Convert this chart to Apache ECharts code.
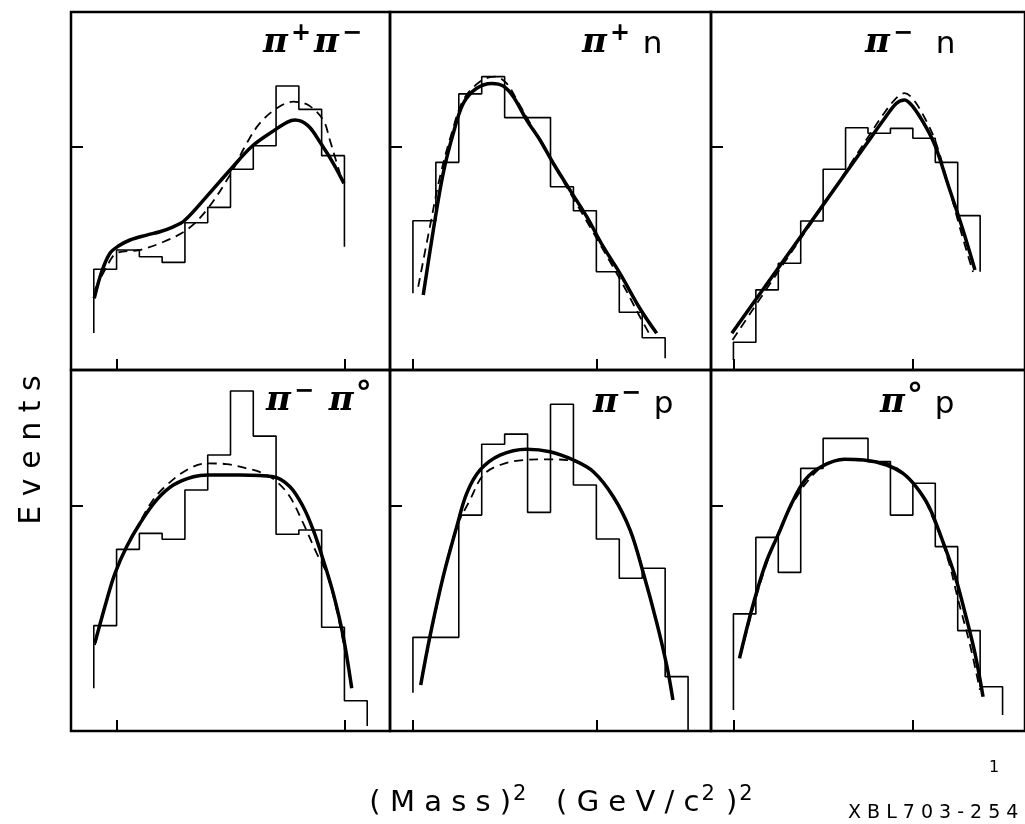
<!DOCTYPE html>
<html>
<head>
<meta charset="utf-8">
<title>Mass squared distributions</title>
<script src="https://cdn.jsdelivr.net/npm/echarts@6/dist/echarts.min.js"></script>
<style>
  html, body { margin: 0; padding: 0; background: #fff; }
  #chart { width: 1025px; height: 824px; }
</style>
</head>
<body>
<div id="chart"></div>
<script>
// x is in bin units (one bin per step), y is events on an axis going 0..160 (tick at 100)

// pi+ pi-
const pipiHist = [45.0, 53.6, 50.6, 48.1, 65.8, 72.7, 89.7, 100.2, 126.9, 116.5, 95.8];
const pipiEdge = [16.5, 55.1];
const pipiSolid = [[0.02, 32], [0.35, 44], [0.71, 52.2], [1.08, 55.4], [1.59, 58.1], [2.32, 60.3], [2.9, 61.8], [3.49, 64.0], [3.97, 66.7], [4.95, 77.5], [5.98, 89.4], [6.97, 100.2], [7.95, 107.3], [8.5, 110.8], [8.83, 111.7], [9.41, 109.1], [9.96, 101.3], [10.51, 92.4], [10.98, 83.4]];
const pipiDashed = [[0.05, 35.8], [0.57, 46.2], [1.0, 52.2], [1.98, 53.6], [2.9, 56.6], [4.08, 62.6], [4.95, 71.5], [5.98, 87.2], [6.71, 101.3], [7.29, 110.3], [8.03, 117.0], [8.75, 119.9], [9.41, 118.4], [10.07, 111.7], [10.36, 102.8], [10.58, 95.3], [10.8, 87.9]];

// pi+ n
const pipnHist = [66.7, 92.8, 123.4, 131.1, 112.8, 112.8, 81.9, 71.2, 43.9, 25.8, 14.4];
const pipnEdge = [34.3, 5.2];
const pipnSolid = [[0.45, 33.5], [0.89, 62.6], [1.32, 87.9], [1.76, 105.8], [2.2, 119.2], [2.78, 125.9], [3.44, 128.1], [3.94, 126.9], [4.38, 122.1], [4.96, 111.7], [5.54, 102.8], [6.12, 92.4], [6.85, 80.4], [7.58, 68.5], [8.3, 55.1], [9.03, 43.2], [9.9, 27.5], [10.63, 16.4]];
const pipnDashed = [[0.23, 37.2], [0.74, 64.0], [1.18, 86.4], [1.69, 105.8], [2.2, 120.7], [2.93, 128.9], [3.58, 131.1], [4.09, 128.1], [4.53, 120.7], [5.11, 110.3], [6.27, 89.4], [7.72, 64.0], [9.17, 38.0], [9.9, 23.8], [10.34, 15.6]];

// pi- n
const pimnHist = [12.4, 35.8, 47.7, 66.6, 89.7, 108.3, 105.8, 108.0, 103.6, 92.8, 69.0];
const pimnEdge = [4.5, 43.9];
const pimnSolid = [[-0.07, 16.4], [2, 45.6], [4, 73.8], [6, 102], [6.69, 111.7], [7.27, 119.2], [7.63, 120.7], [8.0, 117.7], [8.58, 108.7], [9.01, 99.8], [9.6, 81.9], [10.19, 64.0], [10.77, 44.7]];
const pimnDashed = [[-0.04, 13.4], [2, 44], [4, 73.5], [6, 104], [6.69, 114.4], [7.27, 121.6], [7.62, 123.7], [8.01, 121.1], [8.58, 111.7], [9.02, 101.9], [9.59, 82.2], [10.15, 61.7], [10.68, 43.8]];

// pi- pi0
const pimpi0Hist = [46.7, 80.5, 87.6, 85.0, 106.8, 122.3, 150.7, 130.7, 87.2, 89.1, 46.0, 13.4];
const pimpi0Edge = [18.9, 2.2];
const pimpi0Solid = [[0.05, 39.1], [0.57, 58.1], [0.93, 69.9], [1.44, 81.7], [2.03, 92.1], [2.76, 102.4], [3.49, 109.0], [4.37, 112.7], [5.02, 113.5], [6.42, 113.5], [7.88, 112.7], [8.61, 108.3], [9.19, 99.4], [9.63, 89.1], [10.07, 75.8], [10.51, 61.0], [10.95, 41.8], [11.32, 18.9]];
const pimpi0Dashed = [[0.05, 38.1], [0.93, 70.0], [2.03, 92.6], [2.6, 102.4], [3.2, 109.0], [4.08, 115.7], [4.95, 118.6], [5.83, 118.3], [6.71, 116.4], [7.44, 114.2], [8.03, 110.5], [8.61, 103.8], [9.19, 92.1], [9.78, 78.8], [10.22, 69.9], [10.66, 53.6], [11.1, 31.5]];

// pi- p
const pimpHist = [41.5, 41.5, 95.7, 127.1, 131.6, 96.9, 144.8, 109.0, 85.1, 67.7, 72.1, 24.1];
const pimpEdge = [17.0, 0.4];
const pimpSolid = [[0.34, 20.4], [0.74, 41.8], [1.32, 68.4], [1.91, 90.5], [2.35, 105.4], [2.93, 115.7], [3.8, 122.3], [4.96, 124.9], [5.98, 123.8], [7.0, 120.1], [7.87, 114.9], [8.74, 103.8], [9.47, 89.1], [10.05, 69.9], [10.64, 47.7], [11.08, 28.5], [11.34, 13.7]];
const pimpDashed = [[0.34, 20.4], [1.32, 68.4], [1.91, 90.5], [2.49, 102.4], [3.07, 113.5], [3.8, 117.9], [4.82, 120.1], [5.83, 120.4], [6.71, 120.1], [7.58, 117.1], [8.16, 111.8], [8.74, 104.0], [9.32, 92.5], [9.76, 80.5], [10.05, 70.5], [10.64, 47.7], [11.08, 28.5]];

// pi0 p
const pi0pHist = [51.9, 85.8, 70.3, 116.4, 129.7, 129.7, 119.4, 95.7, 109.8, 81.7, 44.5, 19.6];
const pi0pEdge = [9.3, 7.1];
const pi0pSolid = [[0.27, 32.2], [0.85, 55.1], [1.44, 74.3], [2.02, 87.6], [2.6, 100.9], [3.19, 111.2], [3.91, 117.1], [4.94, 120.4], [5.81, 120.1], [6.83, 117.9], [7.56, 114.2], [8.14, 108.3], [8.72, 99.4], [9.31, 84.7], [9.89, 68.4], [10.33, 52.2], [10.77, 34.4], [11.13, 15.2]];
const pi0pDashed = [[0.32, 33.7], [1.44, 73.1], [2.6, 100.0], [3.91, 117.0], [4.94, 120.1], [5.81, 119.9], [6.83, 118.8], [8.14, 108.6], [9.02, 91.3], [9.6, 74.9], [10.02, 58.1], [10.55, 38.1], [10.99, 18.2]];

const yTicks = [100];
const xTicksLeft = [1, 11];
const xTicksOther = [0, 8];

const panels = [
  { hist: pipiHist, edge: pipiEdge, solid: pipiSolid, dashed: pipiDashed, label: '{g|π}{u|+}{g|π}{u|−}', lx: 263, ly: 22 },
  { hist: pipnHist, edge: pipnEdge, solid: pipnSolid, dashed: pipnDashed, label: '{g|π}{u|+}{r| n}', lx: 582, ly: 22 },
  { hist: pimnHist, edge: pimnEdge, solid: pimnSolid, dashed: pimnDashed, label: '{g|π}{u|−}{r|  n}', lx: 865, ly: 22 },
  { hist: pimpi0Hist, edge: pimpi0Edge, solid: pimpi0Solid, dashed: pimpi0Dashed, label: '{g|π}{u|−}{g| π}{d|°}', lx: 266, ly: 380 },
  { hist: pimpHist, edge: pimpEdge, solid: pimpSolid, dashed: pimpDashed, label: '{g|π}{u|−}{r| p}', lx: 593, ly: 382 },
  { hist: pi0pHist, edge: pi0pEdge, solid: pi0pSolid, dashed: pi0pDashed, label: '{g|π}{d|°}{r| p}', lx: 880, ly: 382 }
];

const colLeft = [71, 390, 711];
const colWidth = [319, 321, 320];
const rowTop = [12, 370];
const rowHeight = [358, 361];

function stepPoints(edge, bins) {
  const pts = [[0, edge[0]]];
  bins.forEach(function (v, i) {
    pts.push([i, v]);
    pts.push([i + 1, v]);
  });
  pts.push([bins.length, edge[1]]);
  return pts;
}

const grids = [], xAxes = [], yAxes = [], series = [], graphics = [];

const richLabel = {
  g: { fontFamily: 'DejaVu Serif', fontStyle: 'italic', fontWeight: 'bold', fontSize: 34, lineHeight: 38, verticalAlign: 'bottom' },
  u: { fontFamily: 'DejaVu Sans', fontWeight: 'bold', fontSize: 24, lineHeight: 24, verticalAlign: 'top', padding: [0, 3, 0, 3] },
  d: { fontFamily: 'DejaVu Sans', fontWeight: 'bold', fontSize: 32, lineHeight: 30, verticalAlign: 'top', padding: [0, 2, 0, 2] },
  r: { fontFamily: 'DejaVu Sans', fontSize: 31, lineHeight: 38, verticalAlign: 'bottom' }
};

panels.forEach(function (p, i) {
  const row = Math.floor(i / 3), col = i % 3;
  grids.push({
    left: colLeft[col], top: rowTop[row], width: colWidth[col], height: rowHeight[row],
    show: true, borderColor: '#000', borderWidth: 2.5, backgroundColor: 'transparent'
  });
  xAxes.push({
    gridIndex: i, type: 'value', min: -1, max: 13,
    axisLine: { show: false, onZero: false },
    axisTick: { show: true, inside: true, length: 11, lineStyle: { color: '#000', width: 2 },
      customValues: col === 0 ? xTicksLeft : xTicksOther },
    axisLabel: { show: false },
    splitLine: { show: false }
  });
  yAxes.push({
    gridIndex: i, type: 'value', min: 0, max: 160,
    axisLine: { show: false, onZero: false },
    axisTick: { show: true, inside: true, length: 12, lineStyle: { color: '#000', width: 2 }, customValues: yTicks },
    axisLabel: { show: false },
    splitLine: { show: false }
  });
  series.push({
    type: 'line', xAxisIndex: i, yAxisIndex: i, data: stepPoints(p.edge, p.hist),
    showSymbol: false, lineStyle: { color: '#000', width: 1.6 }, silent: true
  });
  series.push({
    type: 'line', xAxisIndex: i, yAxisIndex: i, data: p.dashed, smooth: 0.35,
    showSymbol: false, lineStyle: { color: '#000', width: 1.8, type: [9, 6] }, silent: true
  });
  series.push({
    type: 'line', xAxisIndex: i, yAxisIndex: i, data: p.solid, smooth: 0.35,
    showSymbol: false, lineStyle: { color: '#000', width: 3.5 }, silent: true
  });
  graphics.push({
    type: 'text', x: p.lx, y: p.ly,
    style: { text: p.label, rich: richLabel, fill: '#000' }
  });
});

graphics.push({
  type: 'text', x: 32, y: 450, rotation: Math.PI / 2,
  style: { text: 'E v e n t s', fontFamily: 'DejaVu Sans', fontSize: 30, fill: '#000', align: 'center', verticalAlign: 'middle' }
});
graphics.push({
  type: 'text', x: 562, y: 818,
  style: {
    text: '{t|( M a s s )}{s|2}{t|   ( G e V / c}{s|2}{t| )}{s|2}',
    align: 'center', verticalAlign: 'bottom', fill: '#000',
    rich: {
      t: { fontFamily: 'DejaVu Sans', fontSize: 29, lineHeight: 34, verticalAlign: 'bottom' },
      s: { fontFamily: 'DejaVu Sans', fontSize: 21, lineHeight: 20, verticalAlign: 'top', padding: [0, 2, 0, 2] }
    }
  }
});
graphics.push({
  type: 'text', x: 848, y: 823,
  style: { text: 'X B L 7 0 3 - 2 5 4', fontFamily: 'DejaVu Sans', fontSize: 19, fill: '#000', verticalAlign: 'bottom' }
});
graphics.push({
  type: 'text', x: 989, y: 760,
  style: { text: '1', fontFamily: 'DejaVu Sans', fontSize: 16, fill: '#000' }
});

const chart = echarts.init(document.getElementById('chart'));
chart.setOption({
  animation: false,
  backgroundColor: '#fff',
  grid: grids,
  xAxis: xAxes,
  yAxis: yAxes,
  series: series,
  graphic: graphics
});
</script>
</body>
</html>
